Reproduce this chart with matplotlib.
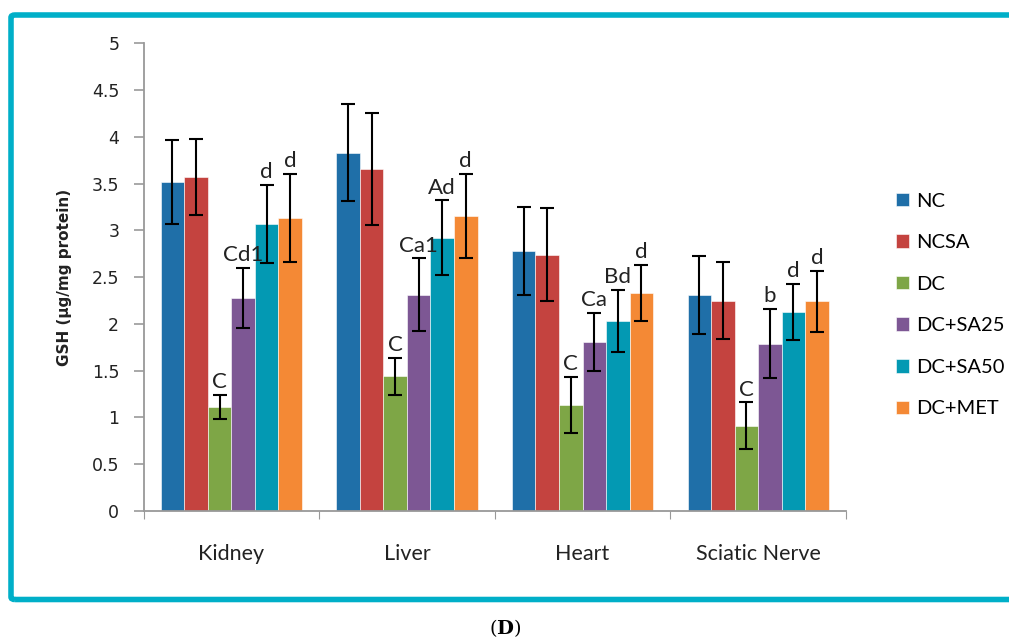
import matplotlib.pyplot as plt
import numpy as np
from matplotlib.patches import FancyBboxPatch

# data
organs = ['Kidney', 'Liver', 'Heart', 'Sciatic Nerve']
groups = ['NC', 'NCSA', 'DC', 'DC+SA25', 'DC+SA50', 'DC+MET']

nc = [3.52, 3.83, 2.78, 2.31]
ncsa = [3.57, 3.66, 2.74, 2.25]
dc = [1.11, 1.44, 1.13, 0.91]
dc_sa25 = [2.28, 2.31, 1.81, 1.79]
dc_sa50 = [3.07, 2.92, 2.03, 2.13]
dc_met = [3.13, 3.15, 2.33, 2.24]

nc_err = [0.45, 0.52, 0.47, 0.42]
ncsa_err = [0.41, 0.60, 0.50, 0.41]
dc_err = [0.13, 0.20, 0.30, 0.25]
dc_sa25_err = [0.32, 0.39, 0.31, 0.37]
dc_sa50_err = [0.42, 0.40, 0.33, 0.30]
dc_met_err = [0.47, 0.45, 0.30, 0.33]

# significance letters, per organ for DC, DC+SA25, DC+SA50, DC+MET
dc_lbl = ['C', 'C', 'C', 'C']
dc_sa25_lbl = ['Cd1', 'Ca1', 'Ca', 'b']
dc_sa50_lbl = ['d', 'Ad', 'Bd', 'd']
dc_met_lbl = ['d', 'd', 'd', 'd']

colors = ['#1f6fa8', '#c4433f', '#7ea646', '#7d5794', '#0399b3', '#f48935']

values = [nc, ncsa, dc, dc_sa25, dc_sa50, dc_met]
errors = [nc_err, ncsa_err, dc_err, dc_sa25_err, dc_sa50_err, dc_met_err]
labels = [None, None, dc_lbl, dc_sa25_lbl, dc_sa50_lbl, dc_met_lbl]

plt.rcParams['font.family'] = ['Lato', 'DejaVu Sans']
plt.rcParams['mathtext.fontset'] = 'dejavuserif'

W, H = 1009, 640
fig = plt.figure(figsize=(W / 100, H / 100), dpi=100)
ax = fig.add_axes([143.5 / W, 1 - 511 / H, 702.5 / W, 467.7 / H])

x = np.arange(len(organs))
w = 0.134
handles = []
for i, (vals, errs) in enumerate(zip(values, errors)):
    pos = x + (i - 2.5) * w
    b = ax.bar(pos, vals, w, color=colors[i], edgecolor='white', linewidth=0.4,
               label=groups[i])
    ax.errorbar(pos, vals, yerr=errs, fmt='none', ecolor='black',
                elinewidth=1.5, capsize=5, capthick=1.5)
    handles.append(b)
    if labels[i] is not None:
        for p, v, e, t in zip(pos, vals, errs, labels[i]):
            ax.text(p, v + e + 0.03, t, ha='center', va='bottom', fontsize=16,
                    color='#222222')

ax.set_xlim(-0.5, 3.5)
ax.set_ylim(0, 5)
ax.set_yticks(np.arange(0, 5.01, 0.5))
ax.set_yticklabels(['0', '0.5', '1', '1.5', '2', '2.5', '3', '3.5', '4', '4.5', '5'],
                   family='DejaVu Sans', fontsize=12.5, color='#222222')
ax.set_xticks(np.arange(-0.5, 3.6, 1.0))
ax.set_xticklabels([])
ax.set_xticks(x, minor=True)
ax.set_xticklabels(organs, minor=True, fontsize=15.5, color='#222222')
ax.tick_params(axis='x', which='minor', length=0, pad=24)
ax.tick_params(axis='x', which='major', length=6, color='#999999', direction='out')
ax.tick_params(axis='y', length=7.5, width=1.2, color='#999999', direction='out', pad=10)

for s in ['top', 'right']:
    ax.spines[s].set_visible(False)
for s in ['left', 'bottom']:
    ax.spines[s].set_color('#999999')
    ax.spines[s].set_linewidth(1.3)

ax.set_ylabel('GSH (µg/mg protein)', fontsize=11, fontweight='bold', labelpad=14,
              family='DejaVu Sans', color='#222222')

fig.legend(handles=handles, labels=groups, loc='center left',
           bbox_to_anchor=(886 / W, 1 - 305 / H), frameon=False, borderpad=0,
           fontsize=14.5, handlelength=0.65, handleheight=0.65, handletextpad=0.35,
           labelspacing=1.22)

# cyan frame around the chart (right side runs off the picture)
frame = FancyBboxPatch((11 / W, 1 - 599.5 / H), 1010 / W, 584.5 / H,
                       boxstyle='round,pad=0,rounding_size=0.004',
                       transform=fig.transFigure, fill=False,
                       edgecolor='#00afc8', linewidth=4)
fig.patches.append(frame)

fig.text(505 / W, 1 - 628 / H, r'($\mathbf{D}$)', family='DejaVu Serif',
         fontsize=14, ha='center', va='center')

fig.savefig('out.png', dpi=100)
